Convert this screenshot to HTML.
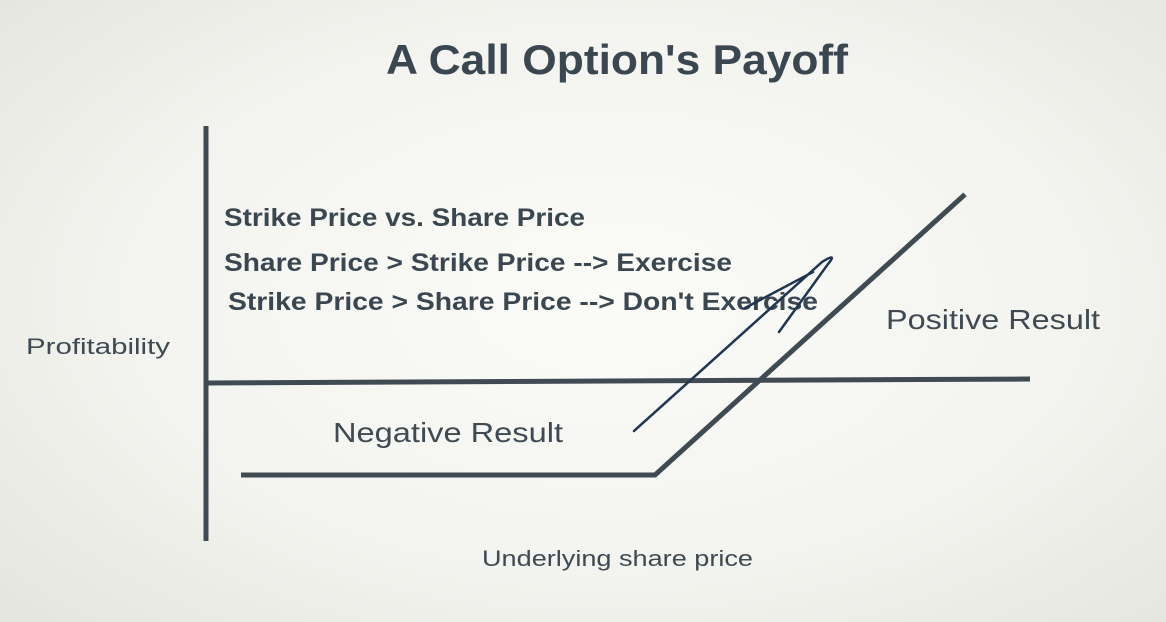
<!DOCTYPE html>
<html><head><meta charset="utf-8"><style>
body{margin:0;width:1166px;height:622px;overflow:hidden;background:radial-gradient(ellipse 75% 80% at 52% 48%,#fbfbf8 0%,#f3f3ef 55%,#e3e3dc 100%);font-family:"Liberation Sans",sans-serif;}
svg{position:absolute;left:0;top:0}
</style></head><body>
<svg width="1166" height="622">
<text x="386" y="74" textLength="462" lengthAdjust="spacingAndGlyphs" font-size="42" font-weight="bold" fill="#3a4750">A Call Option's Payoff</text>
<g id="axes" stroke="#3f4a52" stroke-width="5" fill="none">
<line x1="206" y1="126" x2="206" y2="541"/>
<line x1="206" y1="383" x2="1030" y2="379"/>
</g>
<g font-weight="bold" font-size="25" fill="#3a4750">
<text x="224" y="226" textLength="361" lengthAdjust="spacingAndGlyphs">Strike Price vs. Share Price</text>
<text x="224" y="271" textLength="508" lengthAdjust="spacingAndGlyphs">Share Price &gt; Strike Price --&gt; Exercise</text>
<text x="228" y="310" textLength="590" lengthAdjust="spacingAndGlyphs">Strike Price &gt; Share Price --&gt; Don't Exercise</text>
</g>
<text x="26" y="354" textLength="144" lengthAdjust="spacingAndGlyphs" font-size="22" fill="#3f4a52">Profitability</text>
<text x="482" y="566" textLength="271" lengthAdjust="spacingAndGlyphs" font-size="22" fill="#3f4a52">Underlying share price</text>
<text x="886" y="329" textLength="214" lengthAdjust="spacingAndGlyphs" font-size="28" fill="#3f4a52">Positive Result</text>
<text x="333" y="442" textLength="230" lengthAdjust="spacingAndGlyphs" font-size="28" fill="#3f4a52">Negative Result</text>
<path d="M634,431 L822,262 Q838,252 828,264 L779,332 M813,272 L745,308" stroke="#1f3550" stroke-width="2.5" fill="none" stroke-linecap="round"/>
<g id="series"></g>
</svg>
<script>
const sharePrices=[0,50,100];
const payoffValues=[-1,-1,2.05];
const xScale=v=>241+(v<=50? v*(655-241)/50 : (655-241)+(v-50)*(965-655)/50);
const yScale=v=>383+v*(-(383-475));
const pts=sharePrices.map((s,i)=>xScale(s)+','+(383-payoffValues[i]*92)).join(' ');
const pl=document.createElementNS('http://www.w3.org/2000/svg','polyline');
pl.setAttribute('points',pts);
pl.setAttribute('fill','none');
pl.setAttribute('stroke','#3f4a52');
pl.setAttribute('stroke-width','5');


document.getElementById('series').appendChild(pl);
</script>
</body></html>
